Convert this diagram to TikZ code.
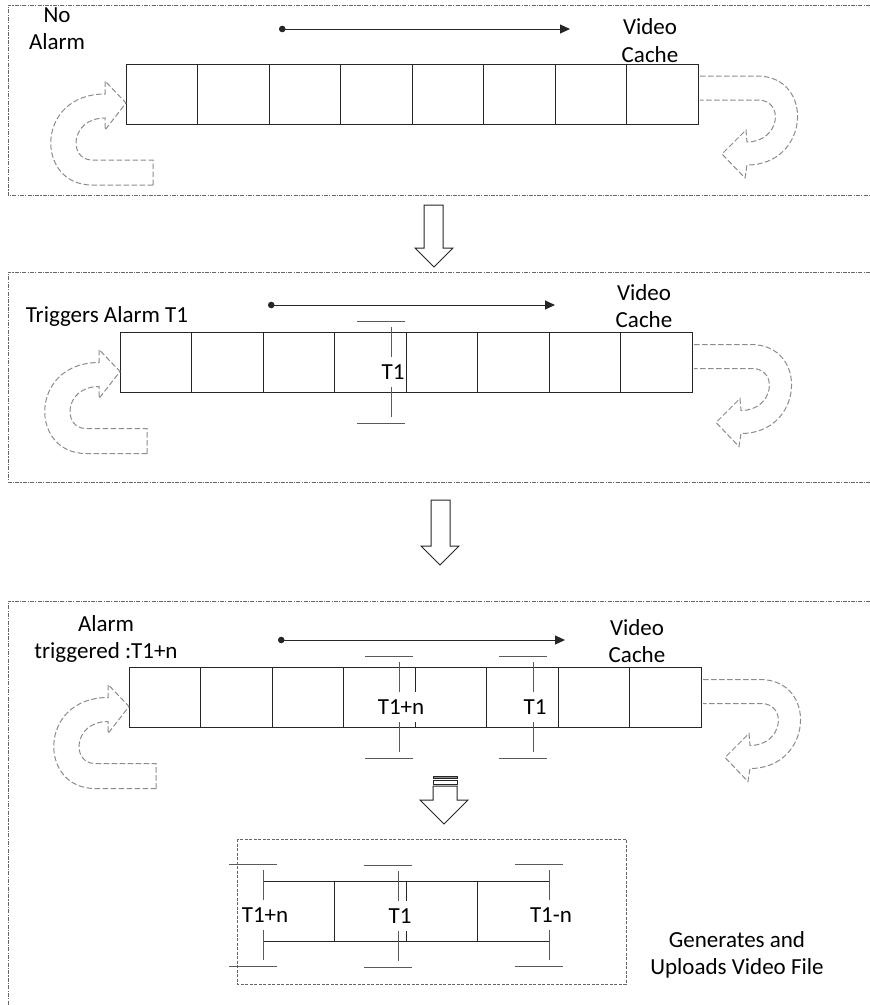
\documentclass[tikz,border=0pt]{standalone}
\usepackage{fontspec}
\setmainfont{Carlito}
\usetikzlibrary{arrows.meta, positioning}

\begin{document}
\begin{tikzpicture}[
    x=1pt, y=-1pt,
    font=\fontsize{23}{27.6}\selectfont,
    cell/.style={rectangle, draw=black!85, line width=1pt,
                 minimum width=71.5pt, minimum height=60pt,
                 inner sep=0pt, outer sep=0pt},
    frame/.style={draw=black!60, line width=0.7pt,
                  dash pattern=on 4pt off 1.2pt on 1.2pt off 1.2pt},
    result/.style={draw=black!60, line width=0.8pt, dash pattern=on 3pt off 1.5pt},
    loopback/.style={draw=black!45, line width=1pt, dash pattern=on 5.5pt off 2.5pt},
    blockarr/.style={draw=black!85, line width=1pt, fill=white},
    timeline/.style={{Circle[length=6.5pt]}-{Triangle[length=10pt, width=9pt]},
                     line width=1pt, black!85},
    tickline/.style={draw=black!65, line width=1pt},
    tag/.style={fill=white, inner xsep=1pt, inner ysep=7.5pt,
                text height=15pt, text depth=0pt},
    lbl/.style={align=center, inner sep=0pt}
  ]
    \useasboundingbox (0,0) rectangle (870,1005);

    % panel frames
    \draw[frame] (870,5) -- (8,5) -- (8,195) -- (870,195);
    \draw[frame] (870,272) -- (8,272) -- (8,482) -- (870,482);
    \draw[frame] (870,601) -- (8,601) -- (8,1005);

    % cache cells and loop arrows of the three panels
    \foreach \dx/\dy/\p in {0/0/a, -6/268.5/b, 3/603.5/c}{
      \begin{scope}[shift={(\dx,\dy)}]
        \foreach \i in {1,...,8}
          \node[cell] (\p\i) at ({126+71.5*(\i-0.5)},94) {};
        \draw[loopback] (153,185) -- (92,185) .. controls (35,185) and (35,94) .. (105,94)
          -- (105,81) -- (126,103) -- (105,130) -- (105,118)
          .. controls (70,118) and (68,160) .. (92,160) -- (153,160) -- cycle;
        \draw[loopback] (700,76) -- (757,76) .. controls (815,76) and (810,165) .. (747,165)
          -- (745,178) -- (722,154) -- (746,130) -- (747,142)
          .. controls (780,142) and (785,100) .. (758,100) -- (700,100);
      \end{scope}
    }

    % time lines
    \coordinate (a-from) at (279,29);  \coordinate (a-to) at (570,29);
    \coordinate (b-from) at (268,305); \coordinate (b-to) at (555,305);
    \coordinate (c-from) at (278,640); \coordinate (c-to) at (565,640);
    \draw[timeline] (a-from) -- (a-to);
    \draw[timeline] (b-from) -- (b-to);
    \draw[timeline] (c-from) -- (c-to);

    % labels
    \node[lbl] (noalarm) at (57,28.6) {No\\Alarm};
    \node[lbl] (cache-a) at (650,40.8) {Video\\Cache};
    \node[lbl, anchor=base] (trigger) at (107,322) {Triggers Alarm T1};
    \node[lbl] (cache-b) at (644,306) {Video\\Cache};
    \node[lbl] (alarm-n) at (106,639) {Alarm\\triggered :T1+n};
    \node[lbl] (cache-c) at (637,641) {Video\\Cache};
    \node[lbl] (upload) at (737,955) {Generates and\\Uploads Video File};

    % block arrows between panels
    \draw[blockarr] (424,205) -- (443,205) -- (443,248) -- (453,248) -- (434,267)
      -- (415,248) -- (424,248) -- cycle;
    \draw[blockarr] (431,500) -- (450,500) -- (450,546) -- (459,546) -- (440,565)
      -- (421,546) -- (431,546) -- cycle;
    \filldraw[blockarr, fill=black!45] (433,776) rectangle (457,778.5);
    \draw[blockarr] (433,780.5) rectangle (457,784.5);
    \draw[blockarr] (433,786) -- (457,786) -- (457,800) -- (468,800) -- (444,824)
      -- (420,800) -- (433,800) -- cycle;

    % uploaded clip
    \draw[result] (237,839) rectangle (626,984);
    \foreach \i in {1,...,4}
      \node[cell] (d\i) at ({263+71.5*(\i-0.5)},911) {};

    % alarm markers
    \foreach \mx/\ty/\by/\lab/\nm in {391/321/423/T1/tb, 399/656/758/T1+n/tcn,
        533/656/758/T1/tc, 263/864/966/T1+n/tdn, 398/865/967/T1/td, 549/864/966/T1-n/tdm}{
      \draw[tickline] (\mx-34,\ty) -- (\mx+14,\ty);
      \draw[tickline] (\mx-34,\by) -- (\mx+14,\by);
      \draw[tickline] (\mx,\ty+6) -- (\mx,\by-6);
      \node[tag] (\nm) at (\mx+2,{(\ty+\by)/2}) {\lab};
    }
  \end{tikzpicture}
\end{document}
